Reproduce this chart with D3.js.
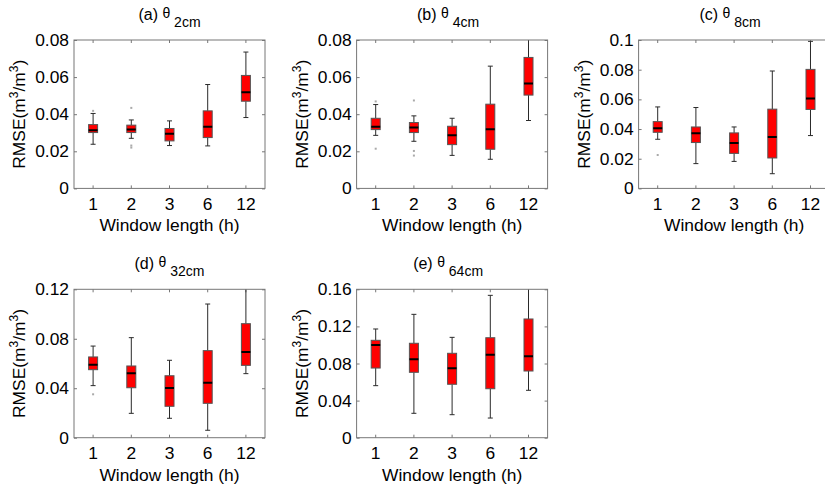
<!DOCTYPE html>
<html><head><meta charset="utf-8">
<script src="https://cdn.jsdelivr.net/npm/d3@7"></script>
<style>body{margin:0;background:#fff} svg{display:block} text{font-family:"Liberation Sans",Arial,sans-serif;fill:#000}</style>
</head><body><svg id="c" width="825" height="488"></svg>
<script>
const categories = ["1","2","3","6","12"];
// box statistics per window length: [lower whisker, q1, median, q3, upper whisker]
const stats2cm  = [[0.0238,0.0301,0.0314,0.0344,0.0404],[0.0270,0.0301,0.0317,0.0341,0.0369],[0.0231,0.0256,0.0294,0.0323,0.0364],[0.0229,0.0274,0.0332,0.0418,0.0560],[0.0382,0.0470,0.0519,0.0609,0.0735]];
const stats4cm  = [[0.0286,0.0317,0.0332,0.0378,0.0452],[0.0254,0.0301,0.0328,0.0355,0.0391],[0.0178,0.0236,0.0286,0.0335,0.0378],[0.0157,0.0211,0.0319,0.0454,0.0659],[0.0366,0.0503,0.0566,0.0706,0.0830]];
const stats8cm  = [[0.0331,0.0378,0.0405,0.0450,0.0549],[0.0167,0.0309,0.0372,0.0414,0.0545],[0.0182,0.0236,0.0306,0.0374,0.0414],[0.0099,0.0205,0.0347,0.0534,0.0791],[0.0356,0.0532,0.0606,0.0802,0.0991]];
const stats32cm = [[0.0421,0.0550,0.0590,0.0653,0.0741],[0.0197,0.0404,0.0521,0.0580,0.0809],[0.0157,0.0254,0.0402,0.0501,0.0626],[0.0060,0.0278,0.0445,0.0704,0.1081],[0.0518,0.0585,0.0693,0.0922,0.1300]];
const stats64cm = [[0.0561,0.0751,0.0999,0.1050,0.1172],[0.0263,0.0705,0.0845,0.1018,0.1330],[0.0248,0.0576,0.0748,0.0910,0.1082],[0.0212,0.0528,0.0895,0.1078,0.1535],[0.0511,0.0719,0.0878,0.1280,0.1700]];
// outliers: [category index, value]
const out2cm  = [[0,0.0418],[1,0.0434],[1,0.0231],[1,0.0220]];
const out4cm  = [[0,0.0469],[0,0.0214],[1,0.0474],[1,0.0202],[1,0.0177]];
const out8cm  = [[0,0.0225]];
const out32cm = [[0,0.0351]];
const out64cm = [];
const ticks2cm  = [0,0.02,0.04,0.06,0.08];
const ticks4cm  = [0,0.02,0.04,0.06,0.08];
const ticks8cm  = [0,0.02,0.04,0.06,0.08,0.1];
const ticks32cm = [0,0.04,0.08,0.12];
const ticks64cm = [0,0.04,0.08,0.12,0.16];
const panelLetters = ["(a)","(b)","(c)","(d)","(e)"];
const depths = ["2cm","4cm","8cm","32cm","64cm"];

const panels = [
  {stats:stats2cm, out:out2cm, ticks:ticks2cm, left:74, top:40, dx:0},
  {stats:stats4cm, out:out4cm, ticks:ticks4cm, left:356.6, top:40, dx:-4},
  {stats:stats8cm, out:out8cm, ticks:ticks8cm, left:638.6, top:40, dx:-4},
  {stats:stats32cm, out:out32cm, ticks:ticks32cm, left:74, top:289.3, dx:0},
  {stats:stats64cm, out:out64cm, ticks:ticks64cm, left:356.6, top:289.3, dx:-4}
];
const W = 191, H = 148.4;
const svg = d3.select("#c");
const axisCol = "#777";
const fmt = v => v === 0 ? "0" : String(+v.toFixed(2));

panels.forEach((p, i) => {
  const g = svg.append("g").attr("transform", `translate(${p.left},${p.top})`);
  const x = d3.scaleBand().domain(categories).range([0, W]);
  const yMax = p.ticks[p.ticks.length - 1];
  const y = d3.scaleLinear().domain([0, yMax]).range([H, 0]);
  const cid = "clip" + i;
  g.append("clipPath").attr("id", cid).append("rect").attr("width", W).attr("height", H);

  const styleAxis = sel => { sel.select(".domain").remove(); sel.selectAll("line").attr("stroke", axisCol); sel.selectAll("text").style("font-size", "17.4px").attr("fill", "#000"); };
  g.append("g").call(d3.axisLeft(y).tickValues(p.ticks).tickSize(-3).tickPadding(5).tickFormat(fmt)).call(styleAxis);
  g.append("g").attr("transform", `translate(${W},0)`).call(d3.axisRight(y).tickValues(p.ticks).tickSize(-3).tickFormat("")).call(styleAxis);
  g.append("g").attr("transform", `translate(0,${H})`).call(d3.axisBottom(x).tickSize(-3).tickPadding(9)).call(styleAxis);
  g.append("g").call(d3.axisTop(x).tickSize(-3).tickFormat("")).call(styleAxis);
  g.selectAll("text").attr("font-family", "Liberation Sans, Arial, sans-serif");

  const m = g.append("g").attr("clip-path", `url(#${cid})`);
  const bw = 9, cw = 5, wc = "#2a2a2a";
  p.stats.forEach((s, k) => {
    const cx = x(categories[k]) + x.bandwidth() / 2;
    m.append("line").attr("x1", cx).attr("x2", cx).attr("y1", y(s[3])).attr("y2", y(s[4])).attr("stroke", wc).attr("stroke-width", 1);
    m.append("line").attr("x1", cx).attr("x2", cx).attr("y1", y(s[0])).attr("y2", y(s[1])).attr("stroke", wc).attr("stroke-width", 1);
    m.append("line").attr("x1", cx - cw/2).attr("x2", cx + cw/2).attr("y1", y(s[4])).attr("y2", y(s[4])).attr("stroke", wc).attr("stroke-width", 1);
    m.append("line").attr("x1", cx - cw/2).attr("x2", cx + cw/2).attr("y1", y(s[0])).attr("y2", y(s[0])).attr("stroke", wc).attr("stroke-width", 1);
    m.append("rect").attr("x", cx - bw/2).attr("width", bw).attr("y", y(s[3])).attr("height", y(s[1]) - y(s[3]))
      .attr("fill", "#ff0000").attr("stroke", "#555").attr("stroke-width", 1);
    m.append("line").attr("x1", cx - bw/2).attr("x2", cx + bw/2).attr("y1", y(s[2])).attr("y2", y(s[2])).attr("stroke", "#000").attr("stroke-width", 2);
  });
  p.out.forEach(o => {
    const cx = x(categories[o[0]]) + x.bandwidth() / 2;
    m.append("rect").attr("x", cx - 1).attr("y", y(o[1]) - 1).attr("width", 2).attr("height", 2).attr("fill", "#aaa");
  });
  g.append("rect").attr("width", W).attr("height", H).attr("fill", "none").attr("stroke", axisCol).attr("stroke-width", 1);

  g.append("text").attr("x", W/2).attr("y", H + 43).attr("text-anchor", "middle").style("font-size", "17.4px").text("Window length (h)");
  const yl = g.append("text").attr("transform", `translate(-49,${H/2}) rotate(-90)`).attr("text-anchor", "middle").style("font-size", "17.4px");
  yl.append("tspan").text("RMSE(m");
  yl.append("tspan").attr("dy", -7).style("font-size", "12px").text("3");
  yl.append("tspan").attr("dy", 7).text("/m");
  yl.append("tspan").attr("dy", -7).style("font-size", "12px").text("3");
  yl.append("tspan").attr("dy", 7).text(")");
  const t = g.append("text").attr("x", W/2 + p.dx).attr("y", -20).attr("text-anchor", "middle").style("font-size", "16px");
  t.append("tspan").text(panelLetters[i] + " ");
  t.append("tspan").attr("dy", -2).style("font-size", "14px").text("θ");
  t.append("tspan").attr("dy", 8.7).style("font-size", "14px").text(" " + depths[i]);
});
</script></body></html>
